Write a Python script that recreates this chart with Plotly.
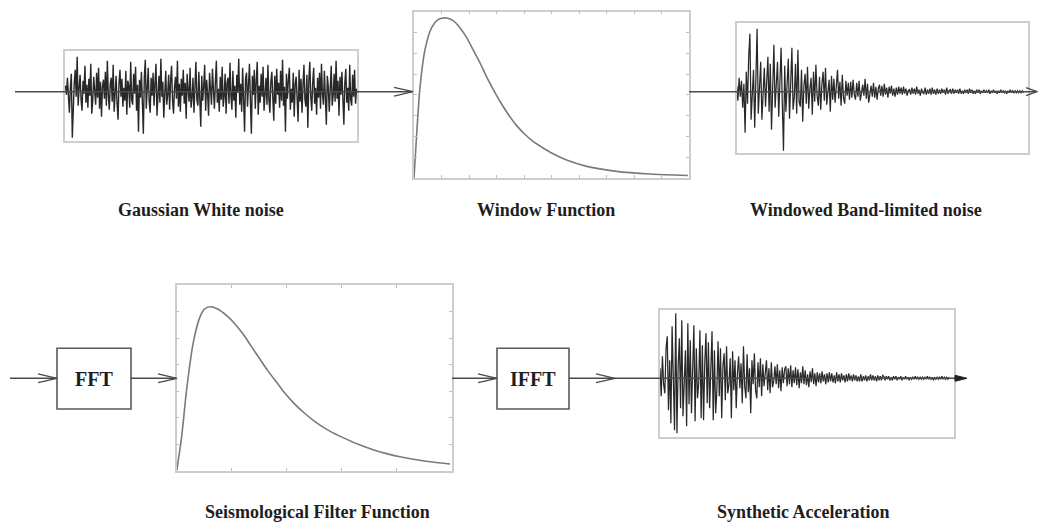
import plotly.graph_objects as go

W, H = 1038, 522

# ---------------- data ----------------
white_noise = [
    6, -3, 14, -9, -21, 4, 18, -46, -12, 9, 22, -5, 35, -14, 3, 17, -8, -19, 11, -2,
    26, -11, 7, -16, 13, -4, 28, -22, -9, 15, 1, -13, 19, -6, 24, -17, 10, -25, 5, 12,
    -7, 20, -14, 31, -3, -18, 8, 14, -10, 27, -20, 2, 16, -12, -28, 9, 22, -5, 13, -15,
    4, -9, 21, -23, 11, 6, -16, 30, -8, -13, 18, -2, 25, -19, 7, -40, 12, -6, 20, -11,
    -42, 15, 32, -17, 3, 24, -10, -21, 14, -4, 19, -14, 9, 28, -24, -7, 16, -11, 33, -5,
    10, -26, 6, 21, -13, -3, 17, -18, 12, 26, -9, -22, 4, 15, -7, 31, -15, 8, -20, 13,
    -4, 22, -12, 9, -27, 18, 2, -10, 24, -16, -6, 14, -21, 11, 30, -8, -14, 20, -3, -35,
    16, -9, 5, 27, -19, 12, -2, -24, 19, 7, -13, 23, -6, -17, 10, 31, -11, 3, -20, 15,
    -8, 25, -15, -5, 18, -22, 9, 14, -12, 29, -4, -18, 21, -9, 6, -26, 17, -1, 33, -13,
    8, -20, 24, -7, -40, 13, 19, -15, 4, 28, -10, -42, 16, -3, 22, -17, 11, 30, -23, 6,
    -11, 18, -5, 25, -19, 2, 14, -13, 27, -8, -21, 10, 20, -6, -29, 16, -12, 23, -3, 9,
    -16, 21, -9, 32, -14, 5, -40, 18, -7, 12, 24, -18, 3, -11, 19, -25, 8, 15, -4, -30,
    22, -10, 13, -21, 6, 27, -8, -15, 17, -36, 11, 30, -5, -19, 9, 24, -12, 4, -23, 14,
    -6, 19, -17, 28, -2, -13, 21, -9, -33, 16, 5, -20, 12, 26, -14, -4, 18, -10, 31, -7,
    11, -24, 15, -3, 20, -16, -33, 9, 23, -11, 4, -19, 27, -8, -14, 17, -5, 22, -12, 3,
]

window_t = [0.0, 0.004, 0.010, 0.022, 0.040, 0.064, 0.087, 0.105, 0.120, 0.142, 0.167,
            0.192, 0.215, 0.240, 0.264, 0.287, 0.313, 0.342, 0.373, 0.405, 0.433, 0.465,
            0.495, 0.555, 0.628, 0.737, 0.858, 0.996]
window_a = [0.0, 0.108, 0.27, 0.548, 0.771, 0.904, 0.952, 0.962, 0.962, 0.946, 0.904,
            0.843, 0.771, 0.693, 0.608, 0.536, 0.46, 0.385, 0.315, 0.26, 0.22, 0.185,
            0.155, 0.108, 0.07, 0.04, 0.024, 0.015]

windowed_noise = [
    6, -9, 14, -5, 11, -16, 8,
    -41, 20, -12, 35, 58, -28, -8, 22, -36, 14, 63, -22, 5,
    30, -28, -6, 24, -15, 12, 35, -20, 28, -38, 9, 47, -16, 4, 30, -25, 18, 44, -12, -59,
    26, -20, 8, 33, -27, 15, 44, -18, -5, 28, -22, 42, -10,
    -15, 22, -30, 6, 18, -12, 25, -17, 3, 14, -23, 20, -10, 27, -4, -14, 15, -18, 8, 20,
    -9, 24, -13, -2, 12, -20, 16, -8, 13, -11, 5, 22, -7, 10, -14, 17, -6, -12, 11, -4, 9, -8,
    10, -6, 12, -3, -8, 9, -5, 11, -9, 2, 7, -4, 13, -7, 8, -11, 1, 6, -5, 9, -6, 5, -8, 3,
    7, -4, 6, -5, 8, -3, 4, -6, 5, -2, 6, -4, 3, -5, 4, -3, 5, -2,
    4, -3, 5, -2, 3, -4, 1, 2, -3, 4, -2, 3, -3, 5, -2, 2, -4, 3, -1, -2, 4, -3, 2, -2, 3, -3, 4, -2, 2, -3,
    3, -2, 2, -2, 3, -1, 2, -3, 4, -2, 1, 2, -2, 3, -2, 2, -1, 2, -2, 3, -2, 1, -2, 2, -1, 2, -2, 3, -1, 2,
    -2, 1, -2, 2, -1, 2, -2, 1, -1, 2, -1, 1, -1, 2, -2, 1, -1, 2, -1, 1, -2, 1, -1, 2, -1, 1, -1, 1, -2, 1,
    -1, 2, -1, 1, -1, 1, -1, 1, -1, 1, -1, 1, -1,
]

filter_f = [0.0, 0.018, 0.036, 0.060, 0.085, 0.102, 0.121, 0.147, 0.182, 0.212, 0.242,
            0.272, 0.303, 0.333, 0.364, 0.393, 0.423, 0.466, 0.509, 0.557, 0.605, 0.66,
            0.714, 0.763, 0.812, 0.9, 0.994]
filter_a = [0.0, 0.184, 0.435, 0.688, 0.83, 0.872, 0.883, 0.872, 0.835, 0.79, 0.735,
            0.668, 0.6, 0.535, 0.475, 0.418, 0.368, 0.308, 0.258, 0.213, 0.178, 0.142,
            0.113, 0.092, 0.075, 0.052, 0.036]

synthetic_acc = [
    10, -18, 22, -6, -15, 30, 42, -32,
    18, -45, 52, -20, -52, 65, -55, 12, 40, -30, 58, -38, -10, 28, -48, 55, -26,
    38, -35, 10, 53, -43, 30, -20, -5, 48, -40, 33, -42, 15, 45, -25, 36, -30, 8, 47, -42,
    28, -35, -12, 37, -18,
    30, -40, 12, 25, -22, 32, -15, -6, 20, -40, 27, -12, 18, -30, 5, 22, -10, 15, -25, 32,
    -8, -20, 24, -14, 10, -35, 18, -6, 25, -12, -20, 16, -9,
    20, -18, 14, -8, 3, 18, -12, 10, -15, 16, -9, -3, 12, -6, 14, -10, 8, -13, 11, -5, 9,
    12, -8, 10, -6, 13, -9, 8, -5, 11, -7, 9, -10, 6, -5, 12, -6, 8, -7, 4, -9, 7, -4, 10, -6, 5, -8,
    6, -4, 5, -5, 7, -3, 4, -6, 5, -4, 6, -3, 5, -4, 3, -5, 6, -3, 4, -4, 5, -2, 3, -4, 4, -3, 5, -2,
    3, -3, 4, -2, 3, -3, 2, -3, 4, -3, 2, -2, 3, -3, 2, -2, 4, -2, 3, -2, 2, -3, 3, -2, 2, -2, 3,
    2, -2, 2, -1, 2, -2, 1, -2, 2, -1, 2, -2, 1, -1, 2, -2, 1, -1, 2, -1, 1, -2, 1, -1, 1, -1, 2, -1,
    1, -1, 1, -1, 1, -1, 1, -1, 2, -1, 1, -1, 1, -2, 1, -1, 1, -1, 1, -1, 2, -1, 1, -1, 1, -1, 1,
]

labels = ["Gaussian White noise", "Window Function", "Windowed Band-limited noise",
          "Seismological Filter Function", "Synthetic Acceleration"]

# ---------------- layout helpers ----------------
def xdom(a, b):
    return [a / W, b / W]

def ydom(top, bottom):
    return [1 - bottom / H, 1 - top / H]

BOX = "#cdcdcd"
fig = go.Figure()

fig.add_trace(go.Scatter(x=[], y=[], xaxis="x", yaxis="y", showlegend=False))
layout = dict(
    width=W, height=H, margin=dict(l=0, r=0, t=0, b=0),
    paper_bgcolor="white", plot_bgcolor="white", showlegend=False,
    xaxis=dict(domain=[0, 1], range=[0, W], visible=False, fixedrange=True),
    yaxis=dict(domain=[0, 1], range=[H, 0], visible=False, fixedrange=True),
)

panels = [
    ("2", 65, 357, 50.7, 140.7, [-0.5, len(white_noise) - 0.5], [-49, 41], None),
    ("3", 414, 689, 11.7, 178, [0, 1], [0, 1], (0.1, 0.125)),
    ("4", 736.7, 1028.3, 23.3, 153.3, [0, 243], [-61.6, 68.4], None),
    ("5", 176.7, 451.7, 285, 470.7, [0, 1], [0, 1], (0.2, 1 / 7)),
    ("6", 660, 954, 310, 437, [0, 243], [-58.7, 68.3], None),
]
for name, x0, x1, top, bot, xr, yr, tk in panels:
    common = dict(showline=True, linecolor=BOX, linewidth=1.5, showgrid=False,
                  zeroline=False, showticklabels=False, fixedrange=True)
    xa = dict(common, domain=xdom(x0, x1), range=xr, anchor="y" + name)
    ya = dict(common, domain=ydom(top, bot), range=yr, anchor="x" + name)
    if tk:
        xa.update(ticks="inside", ticklen=3, tickcolor="#bdbdbd", dtick=tk[0], tick0=0, mirror="ticks")
        ya.update(ticks="inside", ticklen=3, tickcolor="#bdbdbd", dtick=tk[1], tick0=0, mirror="ticks")
    else:
        xa.update(mirror=True, ticks="")
        ya.update(mirror=True, ticks="")
    layout["xaxis" + name] = xa
    layout["yaxis" + name] = ya

NOISE = "rgba(10,10,10,0.88)"
CURVE = "#7a7a7a"
fig.add_trace(go.Scatter(x=list(range(len(white_noise))), y=white_noise, mode="lines",
                         line=dict(color=NOISE, width=1.4), xaxis="x2", yaxis="y2"))
fig.add_trace(go.Scatter(x=window_t, y=window_a, mode="lines",
                         line=dict(color=CURVE, width=1.6, shape="spline", smoothing=0.8),
                         xaxis="x3", yaxis="y3"))
fig.add_trace(go.Scatter(x=list(range(len(windowed_noise))), y=windowed_noise, mode="lines",
                         line=dict(color=NOISE, width=1.25), xaxis="x4", yaxis="y4"))
fig.add_trace(go.Scatter(x=filter_f, y=filter_a, mode="lines",
                         line=dict(color=CURVE, width=1.6, shape="spline", smoothing=0.8),
                         xaxis="x5", yaxis="y5"))
fig.add_trace(go.Scatter(x=list(range(len(synthetic_acc))), y=synthetic_acc, mode="lines",
                         line=dict(color=NOISE, width=1.25), xaxis="x6", yaxis="y6"))

# ---------------- arrows, boxes ----------------
LINE = "#4a4a4a"
shapes = []

def hline(x0, x1, y):
    shapes.append(dict(type="line", xref="x", yref="y", x0=x0, x1=x1, y0=y, y1=y,
                       line=dict(color=LINE, width=1.5)))

def chevron(tip, y, length=19, half=4.4):
    shapes.append(dict(type="path", xref="x", yref="y",
                       path=f"M {tip-length},{y-half} L {tip},{y} L {tip-length},{y+half}",
                       line=dict(color=LINE, width=1.3)))

hline(15, 412, 91.7)
chevron(413, 91.7)
hline(689, 1036, 91.7)
chevron(1037, 91.7, length=11, half=4)
Y2 = 378.3
hline(10, 57, Y2); chevron(57, Y2)
hline(131, 176, Y2); chevron(177, Y2)
hline(452, 496, Y2); chevron(497, Y2)
hline(569, 955, Y2); chevron(615, Y2)
shapes.append(dict(type="path", xref="x", yref="y",
                   path=f"M 955,{Y2-3} L 967,{Y2} L 955,{Y2+3} Z",
                   fillcolor="#222", line=dict(color="#222", width=1)))
for x0, x1 in [(57, 131), (497, 569)]:
    shapes.append(dict(type="rect", xref="x", yref="y", x0=x0, x1=x1, y0=348.3, y1=409,
                       line=dict(color="#5a5a5a", width=1.6), fillcolor="white", layer="below"))

annotations = []
def text(s, x, y, size):
    annotations.append(dict(text=f"<b>{s}</b>", x=x, y=y, xref="x", yref="y", showarrow=False,
                            font=dict(family="Liberation Serif", size=size, color="#1e1e1e"),
                            xanchor="center", yanchor="middle"))

text("FFT", 94, 378.5, 20)
text("IFFT", 533, 378.5, 20)
label_pos = [(201, 210), (546, 210), (866, 210), (317, 512), (803, 512)]
for s, (x, y) in zip(labels, label_pos):
    text(s, x, y, 18)

layout["shapes"] = shapes
layout["annotations"] = annotations
fig.update_layout(**layout)
fig.write_html("out.html")
